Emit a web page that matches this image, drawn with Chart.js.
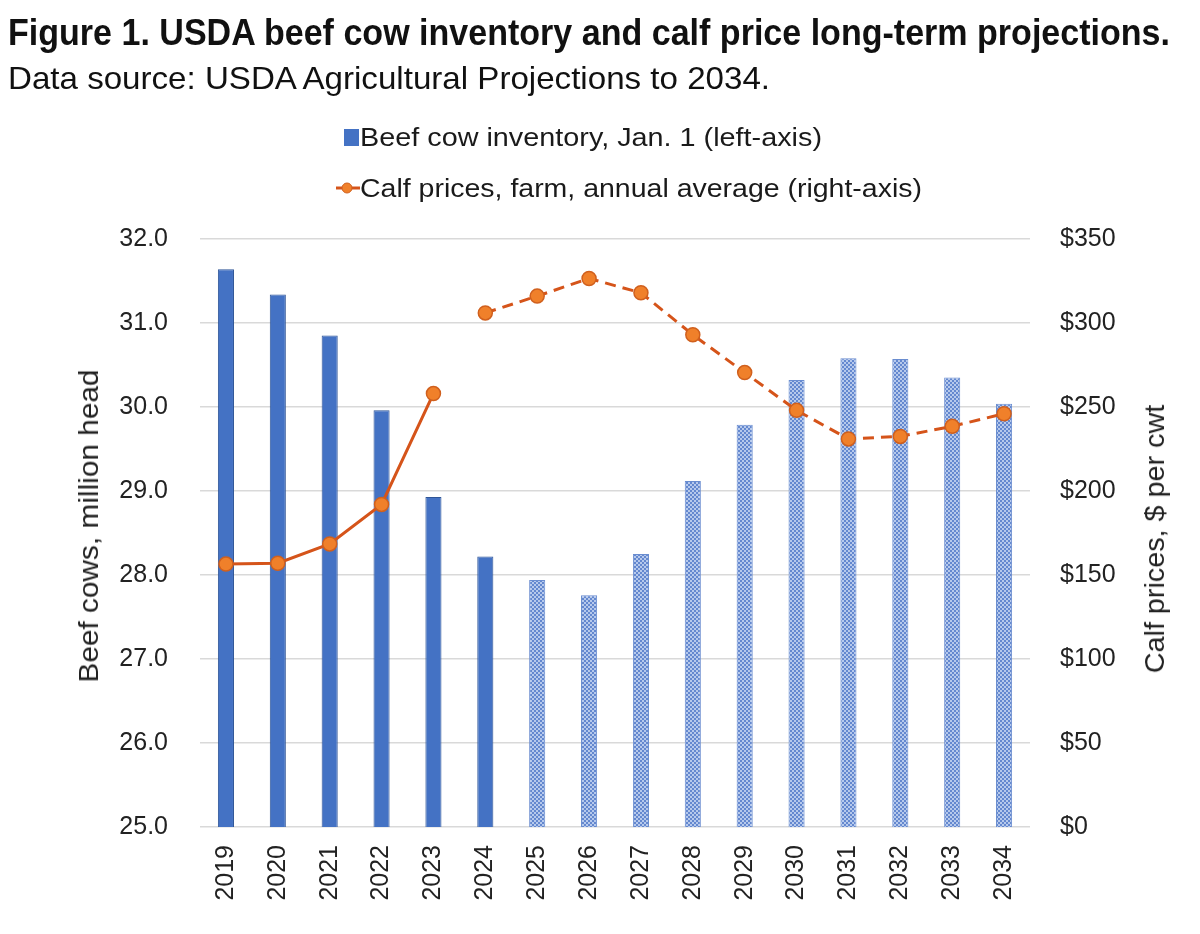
<!DOCTYPE html>
<html>
<head>
<meta charset="utf-8">
<script src="https://cdn.jsdelivr.net/npm/chart.js@4.4.1/dist/chart.umd.min.js"></script>
<style>
  html, body { margin: 0; padding: 0; background: #fff; }
  #wrap { position: relative; width: 1200px; height: 934px; overflow: hidden; }
  #chart { position: absolute; left: 0; top: 0; }
  .txt { position: absolute; white-space: nowrap; line-height: 1; color: #111; transform-origin: 0 0; }
  #title { left: 8px; top: 12px; font: bold 36px "Liberation Sans Narrow", "Liberation Sans", Arial, sans-serif; }
  #subtitle { left: 8px; top: 60px; font: 32px "Liberation Sans Narrow", "Liberation Sans", Arial, sans-serif; }
  .leg { position: absolute; left: 334px; height: 26px; display: flex; align-items: center;
         font: 25px "Liberation Sans", Arial, sans-serif; color: #1a1a1a; white-space: nowrap; }
  .leg .mark { width: 26px; height: 26px; display: flex; align-items: center; justify-content: center; flex: none; }
  .leg .box { width: 15px; height: 17px; background: #4472c4; margin-left: 8px; }
  .leg .label { transform-origin: 0 50%; display: inline-block; }
  .axt { position: absolute; white-space: nowrap; line-height: 1; color: #222;
         font: 28px "Liberation Sans", Arial, sans-serif; transform-origin: 50% 50%; }
</style>
</head>
<body>
<div id="wrap">
  <canvas id="chart" width="1200" height="934"></canvas>
  <div id="title" class="txt">Figure 1. USDA beef cow inventory and calf price long-term projections.</div>
  <div id="subtitle" class="txt">Data source: USDA Agricultural Projections to 2034.</div>
  <div class="leg" style="top:124px"><span class="mark"><span class="box"></span></span><span class="label" id="leg1"></span></div>
  <div class="leg" style="top:175px"><span class="mark"><svg width="26" height="14"><line x1="2" y1="7" x2="26" y2="7" stroke="#d5541a" stroke-width="3"/><circle cx="13" cy="7" r="5" fill="#f0802a" stroke="#d0601e" stroke-width="1"/></svg></span><span class="label" id="leg2"></span></div>
  <div id="ytitle" class="axt">Beef cows, million head</div>
  <div id="y1title" class="axt">Calf prices, $ per cwt</div>
</div>
<script>
const years = ['2019', '2020', '2021', '2022', '2023', '2024', '2025', '2026',
  '2027', '2028', '2029', '2030', '2031', '2032', '2033', '2034'];
// Beef cow inventory, Jan. 1, million head
const cowInventory = [31.64, 31.34, 30.85, 29.96, 28.93, 28.22, 27.94, 27.76,
  28.25, 29.12, 29.79, 30.32, 30.58, 30.57, 30.35, 30.04];
// Calf prices, $ per cwt: actual 2019-2023, projected 2024-2034
const calfPriceActual = [156.5, 157, 168.5, 192, 258];
const calfPriceProjected = [306, 316, 326.5, 318, 293, 270.5, 248, 231, 232.5, 238.5, 246];
const firstProjectedBarYear = '2025';

const cowLabel = 'Beef cow inventory, Jan. 1 (left-axis)';
const priceLabel = 'Calf prices, farm, annual average (right-axis)';

document.getElementById('leg1').textContent = cowLabel;
document.getElementById('leg2').textContent = priceLabel;

function fitWidth(el, w) {
  const r = el.getBoundingClientRect().width;
  el.style.transform = 'scaleX(' + (w / r) + ')';
}
fitWidth(document.getElementById('title'), 1162);
fitWidth(document.getElementById('subtitle'), 762);
fitWidth(document.getElementById('leg1'), 462);
fitWidth(document.getElementById('leg2'), 562);

// vertical axis titles, reading bottom to top on both sides
function placeAxisTitle(el, cx, cy, len) {
  const w = el.offsetWidth;
  el.style.left = cx + 'px';
  el.style.top = cy + 'px';
  el.style.transform = 'translate(-50%, -50%) rotate(-90deg) scaleX(' + (len / w) + ')';
}
placeAxisTitle(document.getElementById('ytitle'), 89, 526, 313);
placeAxisTitle(document.getElementById('y1title'), 1155, 539, 268);

// dotted fill for projected bars
const tile = document.createElement('canvas');
tile.width = 4; tile.height = 4;
const tctx = tile.getContext('2d');
tctx.fillStyle = '#b6c9ec';
tctx.fillRect(0, 0, 4, 4);
tctx.fillStyle = '#6488cf';
tctx.fillRect(0, 0, 2, 2);
tctx.fillRect(2, 2, 2, 2);
const ctx = document.getElementById('chart').getContext('2d');
const dots = ctx.createPattern(tile, 'repeat');

const projStart = years.indexOf(firstProjectedBarYear);
const actualSeries = calfPriceActual.concat(Array(years.length - calfPriceActual.length).fill(null));
const projectedSeries = Array(years.length - calfPriceProjected.length).fill(null).concat(calfPriceProjected);

const tickFont = { family: '"Liberation Sans", Arial, sans-serif', size: 25 };
const textColor = '#222';

const lineStyle = {
  type: 'line',
  yAxisID: 'y1',
  borderColor: '#d5541a',
  borderWidth: 3,
  pointRadius: 7,
  pointBackgroundColor: '#f0802a',
  pointBorderColor: '#d0601e',
  pointBorderWidth: 1.5,
  tension: 0,
  spanGaps: false,
  order: 1
};

new Chart(ctx, {
  data: {
    labels: years,
    datasets: [
      Object.assign({}, lineStyle, { label: priceLabel, data: actualSeries }),
      Object.assign({}, lineStyle, { label: priceLabel + ' (projected)', data: projectedSeries, borderDash: [11, 7] }),
      {
        type: 'bar',
        label: cowLabel,
        data: cowInventory,
        yAxisID: 'y',
        backgroundColor: years.map((y, i) => i < projStart ? '#4472c4' : dots),
        borderColor: years.map((y, i) => i < projStart ? '#2f5597' : '#6a8dd0'),
        borderWidth: 1,
        barPercentage: 0.31,
        categoryPercentage: 1,
        order: 2
      }
    ]
  },
  options: {
    responsive: false,
    animation: false,
    layout: { padding: { top: 239, left: 0, right: 0, bottom: 0 } },
    plugins: {
      legend: { display: false },
      title: { display: false },
      tooltip: { enabled: false }
    },
    scales: {
      x: {
        grid: { display: false },
        border: { display: false },
        ticks: { minRotation: 90, maxRotation: 90, autoSkip: false, padding: 10, font: tickFont, color: textColor },
        afterFit(s) { s.height = 107; }
      },
      y: {
        position: 'left',
        min: 25,
        max: 32,
        ticks: { stepSize: 1, callback: v => v.toFixed(1), padding: 32, font: tickFont, color: textColor },
        grid: { color: '#d9d9d9', lineWidth: 1.5, drawTicks: false },
        border: { display: false },
        afterFit(s) { s.width = 200; }
      },
      y1: {
        position: 'right',
        min: 0,
        max: 350,
        ticks: { stepSize: 50, callback: v => '$' + v, padding: 30, font: tickFont, color: textColor },
        grid: { display: false, drawTicks: false },
        border: { display: false },
        afterFit(s) { s.width = 170; }
      }
    }
  }
});
</script>
</body>
</html>
